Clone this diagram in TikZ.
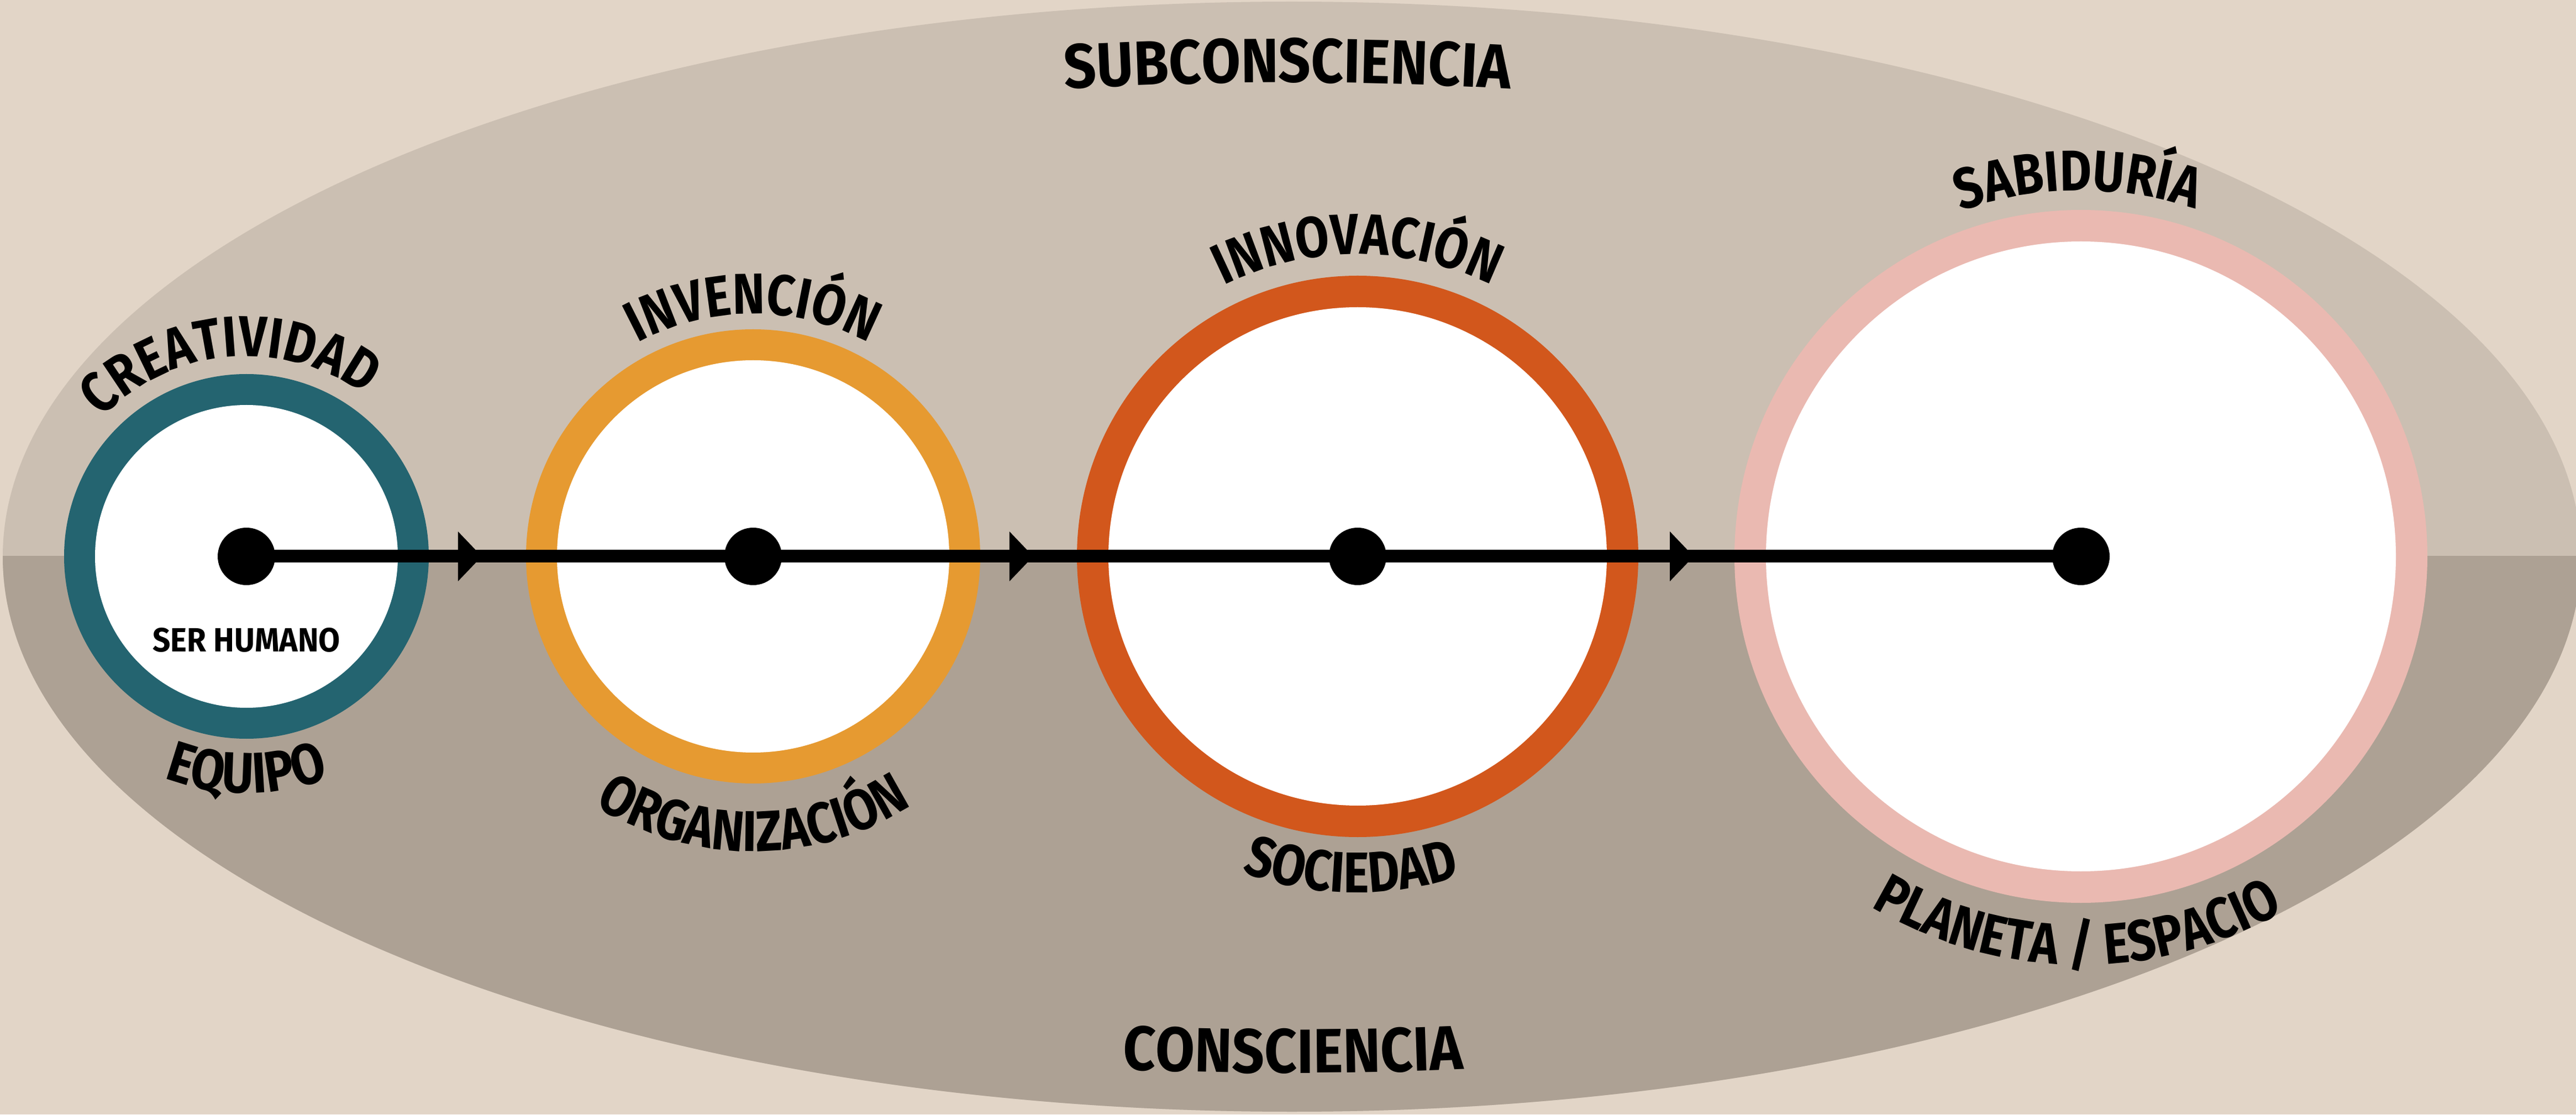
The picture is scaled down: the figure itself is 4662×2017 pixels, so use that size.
\documentclass[tikz,border=0pt]{standalone}
\usepackage{fontspec}
\usetikzlibrary{decorations.text,decorations.markings}
\newfontfamily\labfont{Fira Sans}[FakeStretch=0.85]
\newfontfamily\ttlfam{Fira Sans}[FakeStretch=0.905]
\newfontfamily\smallfam{Fira Sans}[FakeStretch=0.93]
\definecolor{bgout}{HTML}{E2D5C7}
\definecolor{bgtop}{HTML}{CBBFB2}
\definecolor{bgbot}{HTML}{ADA194}
\definecolor{cteal}{HTML}{246470}
\definecolor{corange}{HTML}{E69A31}
\definecolor{cred}{HTML}{D2571C}
\definecolor{cpink}{HTML}{EAB9B1}
\newcommand{\lblfont}{\labfont\bfseries\fontsize{26}{28}\selectfont}
\newcommand{\ttlfont}{\ttlfam\bfseries\fontsize{28.3}{30}\selectfont}
\newcommand{\smallfont}{\smallfam\bfseries\fontsize{15.2}{17}\selectfont}
% top arc text: {cx}{baseline radius}{mid angle}{text}
\newcommand{\toparc}[4]{%
  \path[decorate,decoration={text along path,text align=center,
    text={|\lblfont|#4}}]
    (#1,1010) ++({#3+70}:#2) arc[start angle={#3+70},end angle={#3-70},radius=#2];}
\newcommand{\botarc}[4]{%
  \path[decorate,decoration={text along path,text align=center,
    text={|\lblfont|#4}}]
    (#1,1010) ++({#3-70}:#2) arc[start angle={#3-70},end angle={#3+70},radius=#2];}
\tikzset{
  dot/.style={circle,fill=black,inner sep=0pt,minimum size=26pt},
  flowline/.style={line width=5.75pt,draw=black},
}
\begin{document}
\begin{tikzpicture}[x=0.25pt,y=0.25pt]
\useasboundingbox (0,0) rectangle (4662,2017);
\clip (0,0) rectangle (4662,2017);
\fill[bgout] (0,0) rectangle (4662,2017);
% ellipse
\fill[bgtop] (2338,1009.5) ellipse[x radius=2333,y radius=1004.5];
\begin{scope}
  \clip (0,0) rectangle (4662,1010);
  \fill[bgbot] (2338,1009.5) ellipse[x radius=2333,y radius=1004.5];
\end{scope}
% rings
\fill[cteal] (446,1010) circle[radius=330];
\fill[white] (446,1010) circle[radius=274];
\fill[corange] (1363,1010) circle[radius=411];
\fill[white] (1363,1010) circle[radius=355];
\fill[cred] (2457,1010) circle[radius=508];
\fill[white] (2457,1010) circle[radius=451];
\fill[cpink] (3766,1010) circle[radius=627];
\fill[white] (3766,1010) circle[radius=570];
% dots
\node[dot] (d1) at (446,1010) {};
\node[dot] (d2) at (1363,1010) {};
\node[dot] (d3) at (2457,1010) {};
\node[dot] (d4) at (3766,1010) {};
% connector with arrowheads
\draw[flowline,postaction={decorate},decoration={markings,
  mark=at position 0.1283 with {\fill[black] (-43,-45) -- (0,0) -- (-43,45) -- cycle;},
  mark=at position 0.4289 with {\fill[black] (-43,-45) -- (0,0) -- (-43,45) -- cycle;},
  mark=at position 0.7889 with {\fill[black] (-43,-45) -- (0,0) -- (-43,45) -- cycle;}}]
  (d1.center) -- (d4.center);
% labels
\node[anchor=base] (ser) at (446,838) {\smallfont SER HUMANO};
\toparc{446}{362}{95}{CREATIVIDAD}
\botarc{446}{428}{270}{EQUIPO}
\toparc{1363}{439}{90}{INVENCIÓN}
\botarc{1363}{534}{270}{ORGANIZACIÓN}
\toparc{2457}{547}{90}{INNOVACIÓN}
\botarc{2457}{608}{268.8}{SOCIEDAD}
\toparc{3766}{662}{90.5}{SABIDURÍA}
\botarc{3766}{739}{269.4}{PLANETA / ESPACIO}
% titles
\path[decorate,decoration={text along path,text align=center,text={|\ttlfont|SUBCONSCIENCIA}}]
  (2330,-4832) ++(100:6700) arc[start angle=100,end angle=80,radius=6700];
\path[decorate,decoration={text along path,text align=center,text={|\ttlfont|CONSCIENCIA}}]
  (2340,6855) ++(260:6780) arc[start angle=260,end angle=280,radius=6780];
\end{tikzpicture}
\end{document}
